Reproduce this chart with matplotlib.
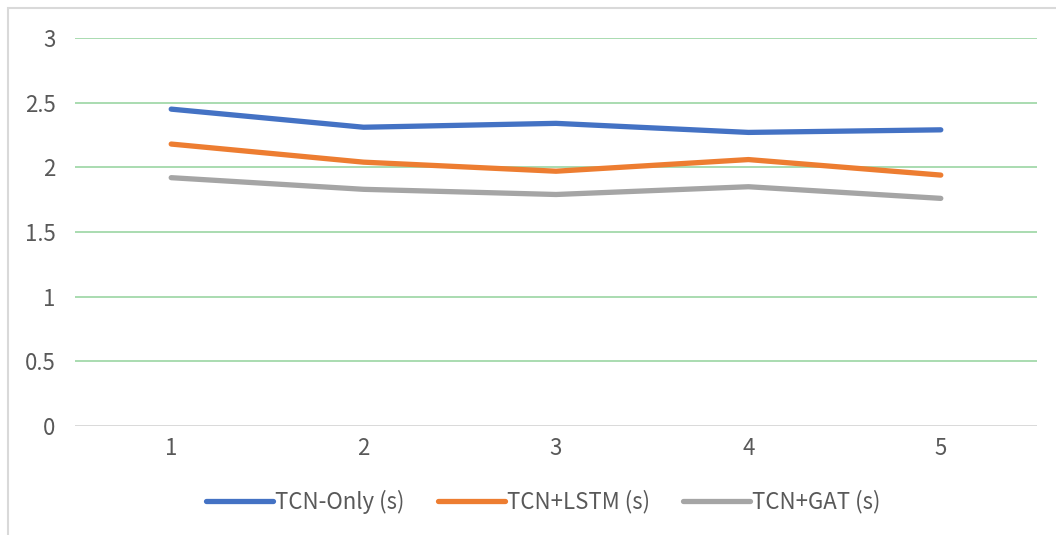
import matplotlib.pyplot as plt
from matplotlib.patches import Rectangle

plt.rcParams['font.family'] = ['Noto Sans CJK SC', 'DejaVu Sans']

# run index and timing per model (seconds)
runs = [1, 2, 3, 4, 5]
tcn_only = [2.45, 2.31, 2.34, 2.27, 2.29]
tcn_lstm = [2.18, 2.04, 1.97, 2.06, 1.94]
tcn_gat = [1.92, 1.83, 1.79, 1.85, 1.76]
yticks = [0, 0.5, 1, 1.5, 2, 2.5, 3]
ytick_labels = ['0', '0.5', '1', '1.5', '2', '2.5', '3']

W, H = 1056, 535
fig = plt.figure(figsize=(W / 100, H / 100), dpi=100)
ax = fig.add_axes([75 / W, 1 - 426 / H, 962 / W, 388 / H])

# outer chart frame
fig.patches.append(Rectangle((8 / W, -0.1), 1.2, (H - 8) / H + 0.1,
                             transform=fig.transFigure, fill=False,
                             edgecolor='#d9d9d9', linewidth=1.5))

series = [
    (tcn_only, '#4472c4', 'TCN-Only (s)'),
    (tcn_lstm, '#ed7d31', 'TCN+LSTM (s)'),
    (tcn_gat, '#a5a5a5', 'TCN+GAT (s)'),
]
for vals, color, label in series:
    ax.plot(runs, vals, color=color, linewidth=3.8, label=label,
            solid_capstyle='round', solid_joinstyle='round', zorder=3)

ax.set_xlim(0.5, 5.5)
ax.set_ylim(0, 3)
ax.set_yticks(yticks)
ax.set_yticklabels(ytick_labels)
ax.set_xticks(runs)
ax.set_xticklabels([str(r) for r in runs])

for y in yticks[1:]:
    ax.axhline(y, color='#a9dcb0', linewidth=1.4, zorder=1)
ax.axhline(0, color='#d9d9d9', linewidth=1.4, zorder=1)

for s in ax.spines.values():
    s.set_visible(False)
ax.tick_params(length=0, labelsize=16, labelcolor='#595959')
ax.tick_params(axis='y', pad=14)
ax.tick_params(axis='x', pad=8)

ax.legend(loc='center', bbox_to_anchor=(0.487, -0.195), ncol=3, frameon=False,
          fontsize=16, labelcolor='#595959', handlelength=3.0,
          handletextpad=0.1, columnspacing=1.5)

fig.savefig('out.png', dpi=100)
